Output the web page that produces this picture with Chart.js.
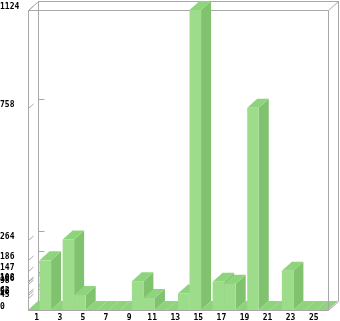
<!DOCTYPE html>
<html>
<head>
<meta charset="utf-8">
<script src="https://cdn.jsdelivr.net/npm/chart.js@4/dist/chart.umd.min.js"></script>
<style>
  html, body { margin: 0; padding: 0; background: #fff; }
  canvas { display: block; }
</style>
</head>
<body>
<canvas id="barChart" width="340" height="321"></canvas>
<script>
// --- data ---
const categories = ['1','2','3','4','5','6','7','8','9','10','11','12','13','14','15','16','17','18','19','20','21','22','23','24','25','26'];
const values = [0, 186, 0, 264, 56, 0, 0, 0, 0, 108, 45, 0, 0, 62, 1124, 0, 106, 98, 0, 758, 0, 0, 147, 0, 0, 0];
const yTickValues = [0, 45, 56, 62, 98, 106, 108, 147, 186, 264, 758, 1124];

// 3d look
const DX = 10, DY = 9;
const FRONT = '#9ddc8a', SIDE = '#80c26e', TOP = '#8ed47c', FRAME = '#a8a8a8';

function line(ctx, x1, y1, x2, y2) {
    ctx.beginPath();
    ctx.moveTo(x1, y1);
    ctx.lineTo(x2, y2);
    ctx.stroke();
}

function poly(ctx, pts, color) {
    ctx.beginPath();
    ctx.moveTo(pts[0][0], pts[0][1]);
    for (let i = 1; i < pts.length; i++) ctx.lineTo(pts[i][0], pts[i][1]);
    ctx.closePath();
    ctx.fillStyle = color;
    ctx.fill();
}

const box3d = {
    id: 'box3d',
    beforeDatasetsDraw(chart) {
        const { ctx, chartArea: a, scales } = chart;
        ctx.save();
        ctx.strokeStyle = FRAME;
        ctx.lineWidth = 1;
        ctx.translate(0.5, 0.5);
        const l = Math.round(a.left), r = Math.round(a.right), t = Math.round(a.top), b = Math.round(a.bottom);
        // back wall + left wall
        line(ctx, l + DX, t - DY, r + DX, t - DY);
        line(ctx, l + DX, t - DY, l + DX, b - DY);
        line(ctx, r + DX, t - DY, r + DX, b - DY);
        line(ctx, l, t, l + DX, t - DY);
        line(ctx, r, t, r + DX, t - DY);
        line(ctx, l, t, l, b);
        line(ctx, l, t, r, t);
        // ticks on left wall and back wall
        yTickValues.forEach(v => {
            const y = Math.round(scales.y.getPixelForValue(v));
            line(ctx, l, y, l + 5, y - 4.5);
            line(ctx, l + DX, y - DY, l + DX + 6, y - DY);
        });
        ctx.restore();
    },
    afterDatasetsDraw(chart) {
        const { ctx, chartArea: a } = chart;
        const meta = chart.getDatasetMeta(0);
        ctx.save();
        meta.data.forEach(bar => {
            const x0 = bar.x - bar.width / 2, x1 = bar.x + bar.width / 2;
            const yt = bar.y, yb = bar.base;
            poly(ctx, [[x1, yt], [x1 + DX, yt - DY], [x1 + DX, yb - DY], [x1, yb]], SIDE);
            poly(ctx, [[x0, yt], [x1, yt], [x1 + DX, yt - DY], [x0 + DX, yt - DY]], TOP);
            if (yb - yt > 0) poly(ctx, [[x0, yt], [x1, yt], [x1, yb], [x0, yb]], FRONT);
        });
        // front/right edges of the box on top
        ctx.strokeStyle = FRAME;
        ctx.lineWidth = 1;
        ctx.translate(0.5, 0.5);
        const l = Math.round(a.left), r = Math.round(a.right), t = Math.round(a.top), b = Math.round(a.bottom);
        line(ctx, r, t, r, b);
        line(ctx, l, b, r, b);
        line(ctx, r, b, r + DX, b - DY);
        ctx.restore();
    }
};

new Chart(document.getElementById('barChart'), {
    type: 'bar',
    data: {
        labels: categories,
        datasets: [{
            data: values,
            backgroundColor: 'rgba(0,0,0,0)',
            borderWidth: 0,
            barPercentage: 1,
            categoryPercentage: 1
        }]
    },
    options: {
        responsive: false,
        animation: false,
        devicePixelRatio: 1,
        layout: { padding: { top: 10, right: 12, left: 0, bottom: 0 } },
        plugins: { legend: { display: false }, tooltip: { enabled: false } },
        scales: {
            x: {
                grid: { display: false, drawTicks: false },
                border: { display: false },
                afterFit: s => { s.height = 11; s.paddingLeft = 0; s.paddingRight = 0; },
                ticks: {
                    autoSkip: false,
                    maxRotation: 0,
                    padding: 3,
                    labelOffset: 3,
                    color: '#000',
                    font: { family: 'DejaVu Sans Mono', size: 8, weight: 'bold' },
                    callback: (v, i) => (i % 2 === 0 ? categories[i] : '')
                }
            },
            y: {
                min: 0,
                max: 1124,
                grid: { display: false, drawTicks: false },
                border: { display: false },
                afterFit: s => { s.width = 28; s.paddingTop = 0; s.paddingBottom = 0; },
                afterBuildTicks: s => { s.ticks = yTickValues.map(v => ({ value: v })); },
                ticks: {
                    padding: 27,
                    crossAlign: 'far',
                    labelOffset: -3,
                    color: '#000',
                    font: { family: 'DejaVu Sans Mono', size: 8, weight: 'bold' },
                    callback: v => v
                }
            }
        }
    },
    plugins: [box3d]
});
</script>
</body>
</html>
